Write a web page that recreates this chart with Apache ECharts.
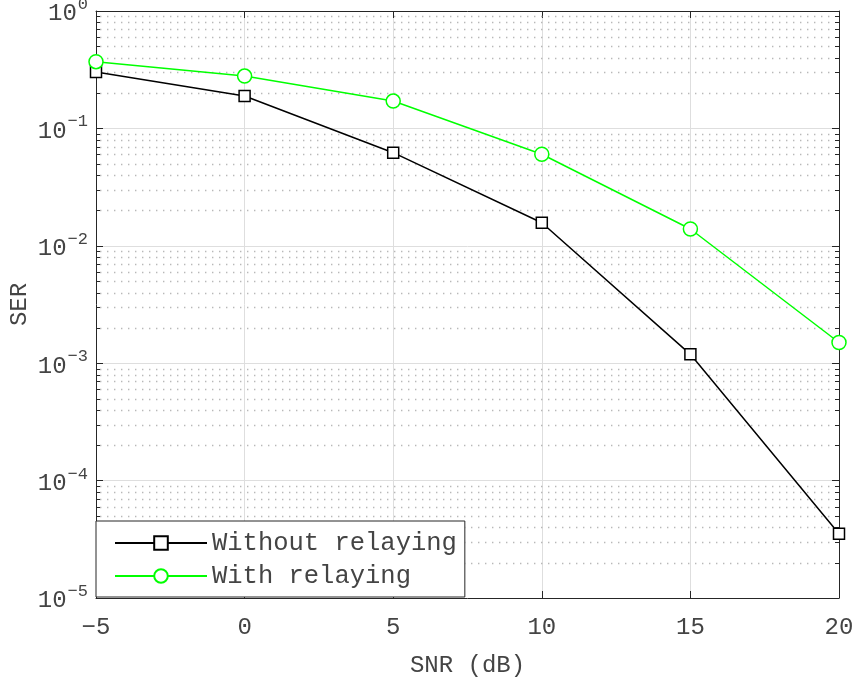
<!DOCTYPE html>
<html>
<head>
<meta charset="utf-8">
<script src="https://cdn.jsdelivr.net/npm/echarts@6/dist/echarts.min.js"></script>
<style>html,body{margin:0;padding:0;background:#fff}#c{width:857px;height:677px}</style>
</head>
<body>
<div id="c"></div>
<script>
const snr = [-5, 0, 5, 10, 15, 20];
const serWithout = [0.302, 0.189, 0.0621, 0.0157, 0.00119, 0.0000352];
const serWith = [0.37, 0.279, 0.171, 0.0602, 0.0139, 0.0015];
const seriesNames = ['Without relaying', 'With relaying'];
const xTicks = [-5, 0, 5, 10, 15, 20];
const decades = [1e-5, 1e-4, 1e-3, 1e-2, 1e-1];
const minorMultipliers = [2, 3, 4, 5, 6, 7, 8, 9];

const minorVals = [];
decades.forEach(d => minorMultipliers.forEach(m => minorVals.push([xTicks[0], m * d])));

const FONT = '"Liberation Mono", "DejaVu Sans Mono", monospace';
const TXT = '#444444';
const AX = '#262626';

const chart = echarts.init(document.getElementById('c'), null, {renderer: 'canvas'});

function supLabel(v) {
  const e = Math.round(Math.log10(v));
  const s = String(e).replace('-', '\u2212');
  return '{b|10}{s|' + s + '}';
}

const option = {
  animation: false,
  backgroundColor: '#fff',
  grid: {left: 96, right: 18, top: 11, bottom: 79, containLabel: false, outerBoundsMode: 'none'},
  legend: {
    data: seriesNames,
    orient: 'vertical',
    left: 96, bottom: 80,
    backgroundColor: '#fff',
    borderColor: AX, borderWidth: 1, borderRadius: 0,
    padding: [9, 8, 8, 18],
    itemWidth: 92, itemHeight: 17, itemGap: 7,
    textStyle: {fontFamily: FONT, fontSize: 25.5, color: TXT, padding: [0, 0, 0, 0]},
    z: 10
  },
  xAxis: [{
    type: 'value', min: -5, max: 20, interval: 5,
    name: 'SNR (dB)', nameLocation: 'middle', nameGap: 56, nameMoveOverlap: false,
    nameTextStyle: {fontFamily: FONT, fontSize: 24, color: TXT},
    axisLine: {show: true, onZero: false, lineStyle: {color: AX, width: 1}},
    axisTick: {show: true, inside: true, length: 7, lineStyle: {color: AX}},
    axisLabel: {fontFamily: FONT, fontSize: 24, color: TXT, margin: 18,
      formatter: v => String(v).replace('-', '\u2212')},
    splitLine: {show: true, lineStyle: {color: '#dedede', width: 1}}
  }, {
    type: 'value', min: -5, max: 20, interval: 5, position: 'top',
    axisLine: {show: true, onZero: false, lineStyle: {color: AX, width: 1}},
    axisTick: {show: true, inside: true, length: 7, lineStyle: {color: AX}},
    axisLabel: {show: false}, splitLine: {show: false}
  }],
  yAxis: [{
    type: 'log', logBase: 10, min: 1e-5, max: 1,
    name: 'SER', nameLocation: 'middle', nameGap: 64, nameRotate: 90, nameMoveOverlap: false,
    nameTextStyle: {fontFamily: FONT, fontSize: 24, color: TXT},
    axisLine: {show: true, onZero: false, lineStyle: {color: AX, width: 1}},
    axisTick: {show: true, inside: true, length: 7, lineStyle: {color: AX}},
    axisLabel: {
      margin: 8, formatter: supLabel,
      rich: {
        b: {fontFamily: FONT, fontSize: 24, color: TXT, verticalAlign: 'bottom', lineHeight: 30, padding: [10, 1, 0, 0]},
        s: {fontFamily: FONT, fontSize: 17, color: TXT, verticalAlign: 'top', lineHeight: 30, padding: [0, 0, 12, 0]}
      }
    },
    splitLine: {show: true, lineStyle: {color: '#dedede', width: 1}}
  }, {
    type: 'log', logBase: 10, min: 1e-5, max: 1, position: 'right',
    axisLine: {show: true, onZero: false, lineStyle: {color: AX, width: 1}},
    axisTick: {show: true, inside: true, length: 7, lineStyle: {color: AX}},
    axisLabel: {show: false}, splitLine: {show: false}
  }],
  series: [{
    type: 'custom',
    name: 'minorgrid',
    silent: true,
    z: 1,
    xAxisIndex: 0, yAxisIndex: 0,
    encode: {x: 0, y: 1},
    data: minorVals,
    renderItem: function (params, api) {
      const cs = params.coordSys;
      const y = Math.round(api.coord([api.value(0), api.value(1)])[1]) + 0.5;
      return {
        type: 'group',
        children: [{
          type: 'line',
          shape: {x1: cs.x + 4, y1: y, x2: cs.x + cs.width - 4, y2: y},
          style: {stroke: '#b8b8b8', lineWidth: 1.4, lineDash: [1.4, 5.6]}
        }, {
          type: 'line',
          shape: {x1: cs.x, y1: y, x2: cs.x + 4, y2: y},
          style: {stroke: AX, lineWidth: 1}
        }, {
          type: 'line',
          shape: {x1: cs.x + cs.width - 4, y1: y, x2: cs.x + cs.width, y2: y},
          style: {stroke: AX, lineWidth: 1}
        }]
      };
    }
  }, {
    name: seriesNames[0],
    type: 'line',
    data: snr.map((x, i) => [x, serWithout[i]]),
    symbol: 'rect', symbolSize: 11,
    showAllSymbol: true,
    lineStyle: {color: '#000', width: 1.5},
    itemStyle: {color: '#fff', borderColor: '#000', borderWidth: 1.5},
    z: 5
  }, {
    name: seriesNames[1],
    type: 'line',
    data: snr.map((x, i) => [x, serWith[i]]),
    symbol: 'circle', symbolSize: 14,
    showAllSymbol: true,
    lineStyle: {color: '#00ff00', width: 1.5},
    itemStyle: {color: '#fff', borderColor: '#00ff00', borderWidth: 1.5},
    z: 5
  }]
};
chart.setOption(option);
</script>
</body>
</html>
